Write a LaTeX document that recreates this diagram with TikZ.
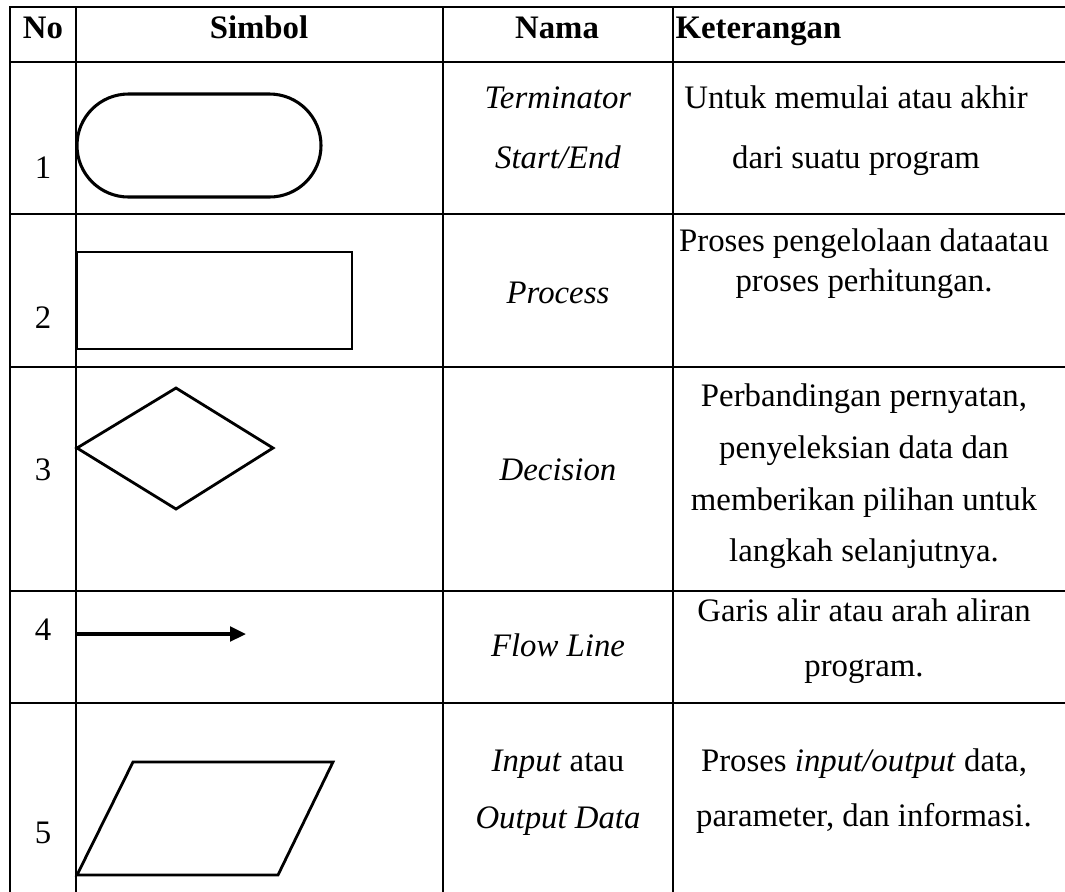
\documentclass[tikz,border=0pt]{standalone}
\usepackage{fontspec}
\setmainfont{Liberation Serif}
\usetikzlibrary{arrows.meta}
\tikzset{
  rule/.style={line width=0.85pt, line cap=rect},
  symb/.style={line width=1.05pt, line join=miter},
  cell/.style={inner sep=0pt, text height=8.5pt, text depth=2.4pt,
    font=\fontsize{12.3}{14}\selectfont},
  head/.style={cell, font=\fontsize{12.3}{14}\selectfont\bfseries},
}
\begin{document}
\begin{tikzpicture}[x=0.375pt,y=-0.375pt]
\useasboundingbox (0,0) rectangle (1065,891);
% rules of the table
\foreach \y in {7,62,214,367,591,703}
  \draw[rule] (10,\y) -- (1065,\y);
\foreach \x in {10,76,443,673}
  \draw[rule] (\x,7) -- (\x,891);
% header
\node[head] (hno) at (43,30) {No};
\node[head] (hsimbol) at (259,30) {Simbol};
\node[head] (hnama) at (557,30) {Nama};
\node[head,anchor=west] (hket) at (675,30) {Keterangan};
% symbols
\draw[symb,line width=1.15pt,rounded corners=19.3pt] (77,94) rectangle (321,197);
\draw[symb] (77,252) rectangle (352,349);
\draw[symb] (77,448) -- (176,388) -- (273,448) -- (176,509) -- cycle;
\coordinate (flowa) at (76,634);
\coordinate (flowb) at (246,634);
\draw[symb,line width=1.25pt,-{Triangle[length=6pt,width=5.5pt]}] (flowa) -- (flowb);
\draw[symb] (133,762) -- (333,762) -- (278,875) -- (77,875) -- cycle;
% numbers
\node[cell] (no1) at (43,170) {1};
\node[cell] (no2) at (43,320) {2};
\node[cell] (no3) at (43,472) {3};
\node[cell] (no4) at (43,632) {4};
\node[cell] (no5) at (43,835) {5};
% names
\node[cell] (nama1a) at (558,100) {\textit{Terminator}};
\node[cell] (nama1b) at (558,160) {\textit{Start/End}};
\node[cell] (nama2) at (558,295) {\textit{Process}};
\node[cell] (nama3) at (558,472) {\textit{Decision}};
\node[cell] (nama4) at (558,648) {\textit{Flow Line}};
\node[cell] (nama5a) at (558,763) {\textit{Input} atau};
\node[cell] (nama5b) at (558,820) {\textit{Output Data}};
% descriptions
\node[cell] (ket1a) at (856,100) {Untuk memulai atau akhir};
\node[cell] (ket1b) at (856,160) {dari suatu program};
\node[cell] (ket2a) at (864,243) {Proses pengelolaan dataatau};
\node[cell] (ket2b) at (864,283) {proses perhitungan.};
\node[cell] (ket3a) at (864,398) {Perbandingan pernyatan,};
\node[cell] (ket3b) at (864,450) {penyeleksian data dan};
\node[cell] (ket3c) at (864,502) {memberikan pilihan untuk};
\node[cell] (ket3d) at (864,553) {langkah selanjutnya.};
\node[cell] (ket4a) at (864,613) {Garis alir atau arah aliran};
\node[cell] (ket4b) at (864,668) {program.};
\node[cell] (ket5a) at (864,763) {Proses \textit{input/output} data,};
\node[cell] (ket5b) at (864,818) {parameter, dan informasi.};
\end{tikzpicture}
\end{document}
